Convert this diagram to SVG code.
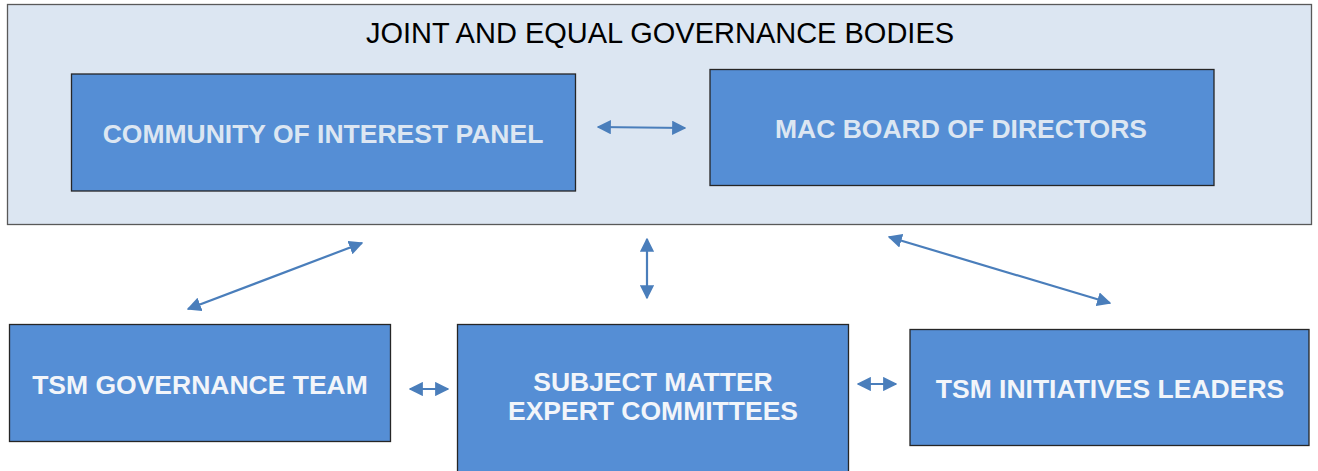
<svg xmlns="http://www.w3.org/2000/svg" width="1318" height="471" viewBox="0 0 1318 471">
<style>
.box{fill:#558ed5;stroke:#262626;stroke-width:1.3}
.outer{fill:#dce6f2;stroke:#595959;stroke-width:1.3}
.lbl{font-family:"Liberation Sans",Arial,sans-serif;font-weight:bold;font-size:26.5px;text-anchor:middle}
.lt{fill:#dce6f2}
.wt{fill:#f2f5fa}
.title{font-family:"Liberation Sans",Arial,sans-serif;font-size:29px;text-anchor:middle;fill:#000}
.con{stroke:#4a7ebb;stroke-width:2.2;fill:none;marker-start:url(#ah);marker-end:url(#ah)}
</style>
<defs>
<marker id="ah" viewBox="0 0 10 10" refX="9" refY="5" markerWidth="6.5" markerHeight="6.5" markerUnits="strokeWidth" orient="auto-start-reverse">
<path d="M0,0 L10,5 L0,10 z" fill="#4a7ebb"/>
</marker>
</defs>
<g id="governance-bodies">
<rect class="outer" x="7.5" y="4.5" width="1304" height="220"/>
<text class="title" x="660" y="43">JOINT AND EQUAL GOVERNANCE BODIES</text>
</g>
<g id="coi-panel">
<rect class="box" x="71.5" y="74" width="504" height="117"/>
<text class="lbl lt" x="323" y="143">COMMUNITY OF INTEREST PANEL</text>
</g>
<g id="mac-board">
<rect class="box" x="710" y="69.5" width="504" height="116"/>
<text class="lbl lt" x="961" y="138">MAC BOARD OF DIRECTORS</text>
</g>
<g id="tsm-governance">
<rect class="box" x="9.5" y="324.5" width="381" height="117"/>
<text class="lbl wt" x="200" y="394">TSM GOVERNANCE TEAM</text>
</g>
<g id="sme-committees">
<rect class="box" x="457.5" y="324.5" width="391" height="150"/>
<text class="lbl wt" x="653" y="391">SUBJECT MATTER</text>
<text class="lbl wt" x="653" y="420">EXPERT COMMITTEES</text>
</g>
<g id="tsm-initiatives">
<rect class="box" x="910" y="329.5" width="399" height="116"/>
<text class="lbl wt" x="1110" y="398">TSM INITIATIVES LEADERS</text>
</g>
<g id="connectors">
<line class="con" x1="598" y1="127" x2="685" y2="128"/>
<line class="con" x1="188" y1="309" x2="362" y2="243"/>
<line class="con" x1="647" y1="239" x2="647" y2="298"/>
<line class="con" x1="889" y1="237" x2="1110" y2="303"/>
<line class="con" x1="410" y1="389" x2="448" y2="389"/>
<line class="con" x1="858" y1="384" x2="896" y2="384"/>
</g>
</svg>
